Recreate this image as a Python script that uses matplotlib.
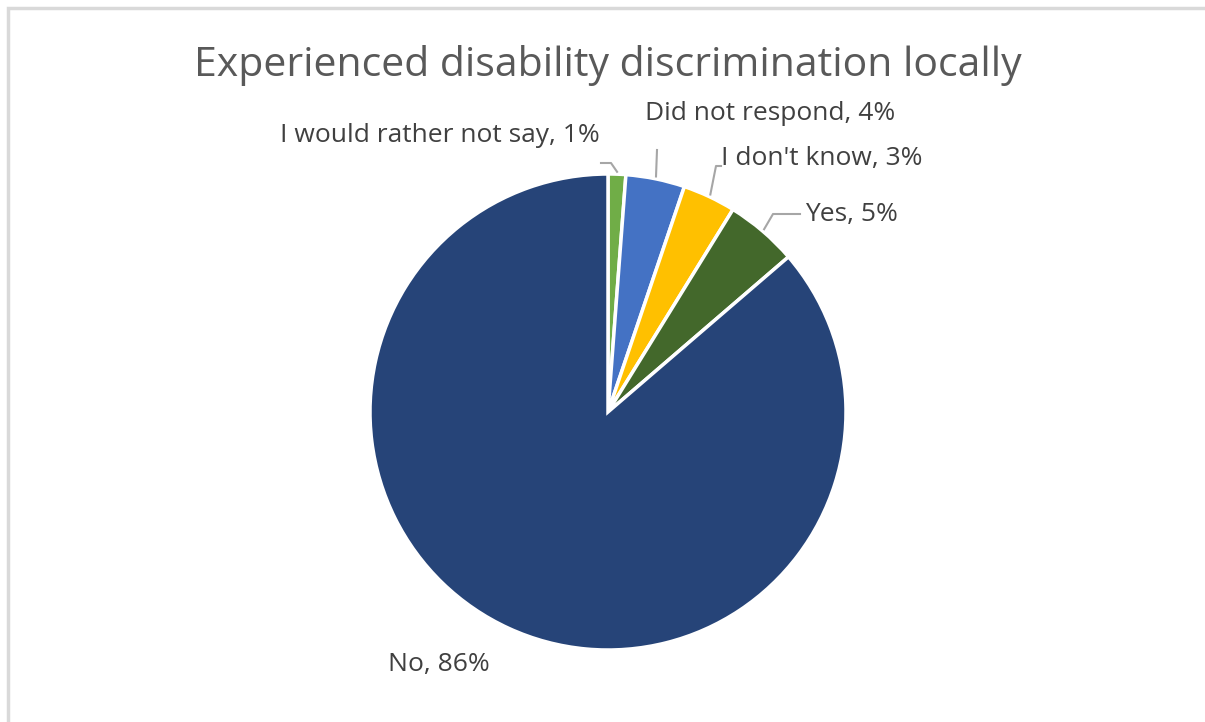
import numpy as np
import matplotlib.pyplot as plt
from matplotlib.patches import Rectangle

categories = ["I would rather not say", "Did not respond", "I don't know", "Yes", "No"]
values = [1.2, 4.0, 3.6, 4.9, 86.3]
pct_labels = ["1%", "4%", "3%", "5%", "86%"]
colors = ["#70AD47", "#4472C4", "#FFC000", "#43682B", "#264478"]

W, H = 1205, 722
cx, cy, R = 608, 412, 238   # pie centre / radius in pixels


def to_data(px, py):
    return (px - cx) / R, (cy - py) / R


plt.rcParams['font.family'] = ['Open Sans', 'DejaVu Sans']

fig = plt.figure(figsize=(W / 100, H / 100), dpi=100)
ax = fig.add_axes([0, 0, 1, 1])

wedges, _ = ax.pie(values, colors=colors, startangle=90, counterclock=False,
                   radius=1, center=(0, 0),
                   wedgeprops=dict(edgecolor='white', linewidth=2.5))

ax.set_xlim(-cx / R, (W - cx) / R)
ax.set_ylim(-(H - cy) / R, cy / R)
ax.set_aspect('auto')
ax.axis('off')

# border of the chart area
fig.patches.append(Rectangle((8 / W, -0.05), 1.1, 1 - 8 / H + 0.05,
                             transform=fig.transFigure, fill=False,
                             edgecolor='#D9D9D9', linewidth=2.5))

ax.text(*to_data(608, 65), "Experienced disability discrimination locally",
        ha='center', va='center', fontsize=29.5, color='#595959')

# label layout: text anchor (px), alignment, elbow point (px) or None
label_pos = [(600, 136, 'right'), (645, 114, 'left'), (721, 158, 'left'),
             (805, 214, 'left'), (388, 664, 'left')]
elbows = [(611, 163), (657, 150), (716, 166), (773, 214), None]
line_ends = [(601, 163), None, (721, 166), (800, 214), None]

lc = '#A6A6A6'
for w, cat, pct, (tx, ty, ha), elb, end in zip(wedges, categories, pct_labels,
                                               label_pos, elbows, line_ends):
    ax.text(*to_data(tx, ty), f"{cat}, {pct}", ha=ha, va='center',
            fontsize=19, color='#404040')
    if elb is None:
        continue
    mid = np.deg2rad((w.theta1 + w.theta2) / 2)
    r0 = 1.01
    pts = [(r0 * np.cos(mid), r0 * np.sin(mid)), to_data(*elb)]
    if end is not None:
        pts.append(to_data(*end))
    xs, ys = zip(*pts)
    ax.plot(xs, ys, color=lc, linewidth=1.5)

fig.savefig('out.png', dpi=100, facecolor='white')
